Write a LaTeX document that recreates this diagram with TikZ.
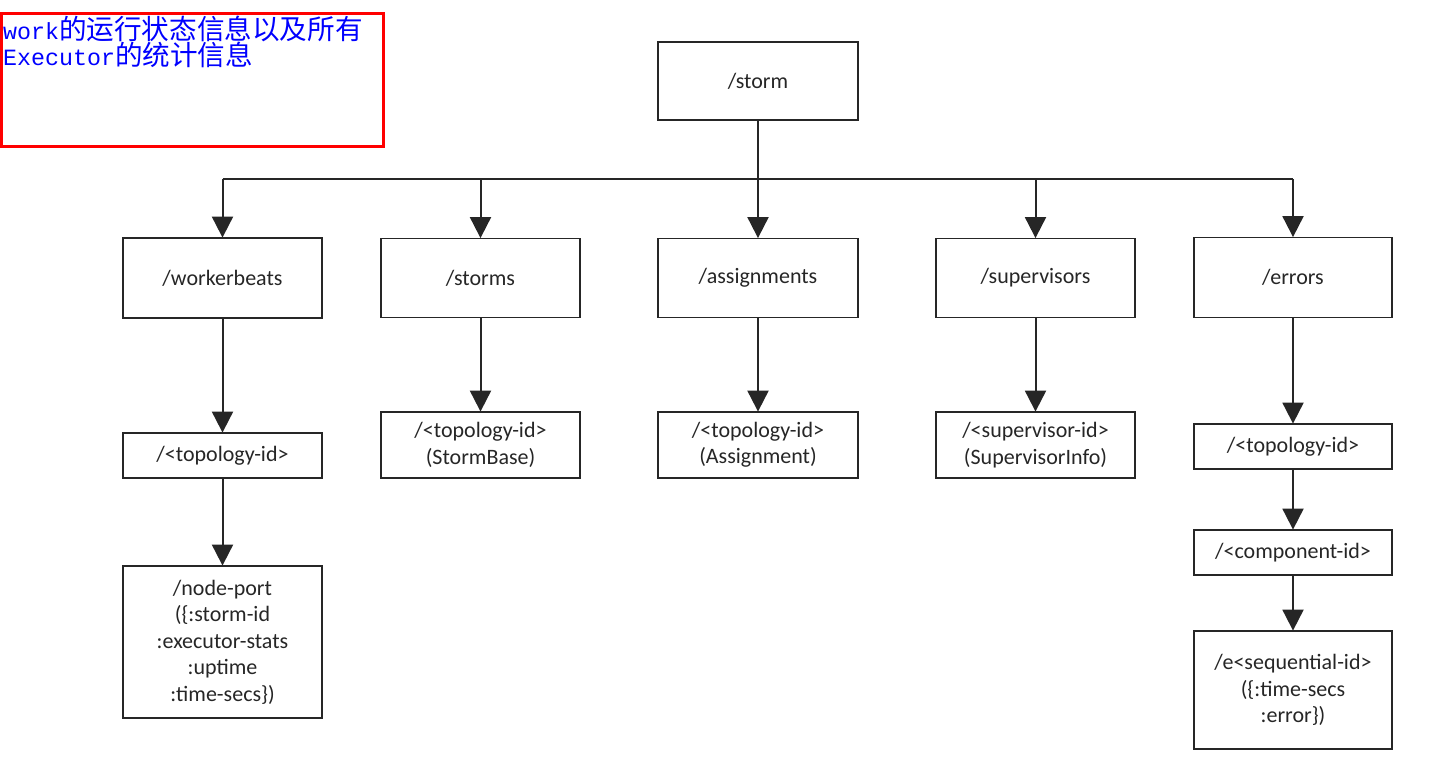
\documentclass[tikz,border=0pt]{standalone}
\usepackage{fontspec}
\setmainfont{Carlito}
\newfontfamily\cjkfont{Noto Sans CJK SC}
\newfontfamily\latmono{Liberation Mono}
\usetikzlibrary{arrows.meta}
\definecolor{notered}{RGB}{255,0,0}
\definecolor{noteblue}{RGB}{0,0,255}
\begin{document}
\begin{tikzpicture}[x=1pt,y=-1pt,
  box/.style={draw=black!85, line width=1.8pt, rectangle, inner sep=0pt,
    align=center, font=\fontsize{22}{26.5}\selectfont, text=black!85},
  link/.style={draw=black!85, line width=2pt},
  arr/.style={link, -{Triangle[length=21pt,width=21pt]}, shorten >=-0.5pt},
  notetext/.style={anchor=base west, inner sep=0pt, text=noteblue}
]
\useasboundingbox (0,0) rectangle (1446,770);

% note in the upper left corner
\draw[notered, line width=3pt] (1.5,13.5) rectangle (383,147);
\node[notetext] (note1) at (3,40)
  {\latmono\fontsize{23.3}{27}\selectfont work\cjkfont\fontsize{27.6}{27}\selectfont 的运行状态信息以及所有};
\node[notetext] (note2) at (3,66)
  {\latmono\fontsize{23.3}{27}\selectfont Executor\cjkfont\fontsize{27.6}{27}\selectfont 的统计信息};

% root
\node[box, minimum width=200pt, minimum height=78pt] (storm) at (758,81) {/storm};

% second level
\node[box, minimum width=199pt, minimum height=80pt] (wb)  at (222.5,278) {/workerbeats};
\node[box, minimum width=199pt, minimum height=79pt] (sts) at (480.5,278) {/storms};
\node[box, minimum width=200pt, minimum height=79pt] (asg) at (758,278) {/assignments};
\node[box, minimum width=199pt, minimum height=79pt] (sup) at (1035.5,278) {/supervisors};
\node[box, minimum width=198pt, minimum height=80pt] (err) at (1293,277.5) {/errors};

% third level
\node[box, minimum width=199pt, minimum height=45pt] (wbtopo) at (222.5,455.5) {/<topology-id>};
\node[box, minimum width=199pt, minimum height=66pt] (ststopo) at (480.5,445) {/<topology-id>\\(StormBase)};
\node[box, minimum width=200pt, minimum height=66pt] (asgtopo) at (758,445) {/<topology-id>\\(Assignment)};
\node[box, minimum width=199pt, minimum height=66pt] (supid) at (1035.5,445) {/<supervisor-id>\\(SupervisorInfo)};
\node[box, minimum width=198pt, minimum height=45pt] (errtopo) at (1293,446.5) {/<topology-id>};

% deeper levels
\node[box, minimum width=199pt, minimum height=152pt] (nodeport) at (222.5,642)
  {/node-port\\(\{:storm-id\\:executor-stats\\:uptime\\:time-secs\})};
\node[box, minimum width=198pt, minimum height=45pt] (comp) at (1293,552.5) {/<component-id>};
\node[box, minimum width=198pt, minimum height=118pt] (seq) at (1293,690)
  {/e<sequential-id>\\(\{:time-secs\\:error\})};

% distribution bus under the root
\coordinate (busy) at (0,179.5);
\draw[link] (storm.south) -- (storm.south |- busy);
\draw[link] (wb.north |- busy) -- (err.north |- busy);
\foreach \n in {wb,sts,asg,sup,err}
  \draw[arr] (\n.north |- busy) -- (\n.north);

% vertical chains
\draw[arr] (wb.south) -- (wbtopo.north);
\draw[arr] (wbtopo.south) -- (nodeport.north);
\draw[arr] (sts.south) -- (ststopo.north);
\draw[arr] (asg.south) -- (asgtopo.north);
\draw[arr] (sup.south) -- (supid.north);
\draw[arr] (err.south) -- (errtopo.north);
\draw[arr] (errtopo.south) -- (comp.north);
\draw[arr] (comp.south) -- (seq.north);
\end{tikzpicture}
\end{document}
